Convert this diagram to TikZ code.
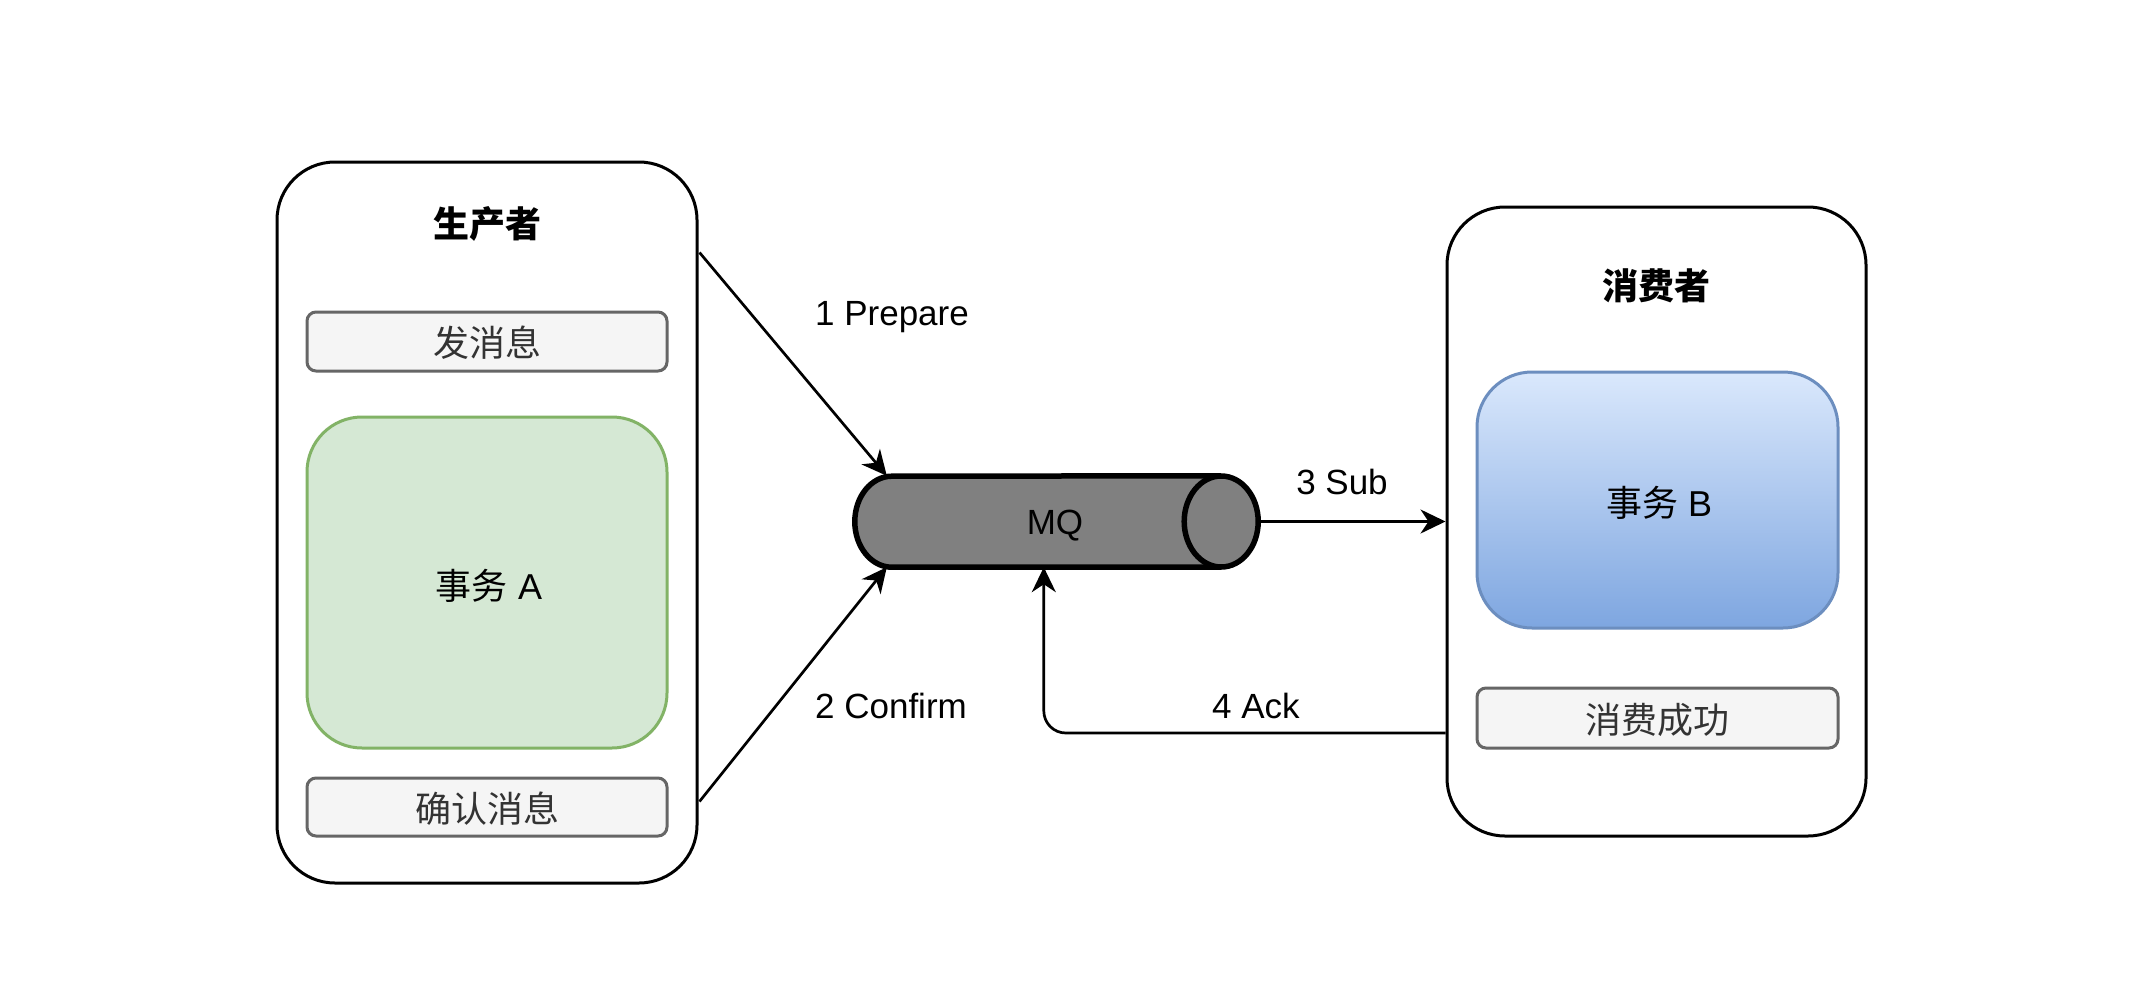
\documentclass[tikz,border=0pt]{standalone}
\usepackage{fontspec}
\setmainfont{Liberation Sans}
\newfontfamily\cjk{Noto Sans CJK SC}
\usetikzlibrary{arrows.meta,calc}
\definecolor{grnfill}{HTML}{D5E8D4}
\definecolor{grnline}{HTML}{82B366}
\definecolor{bluetop}{HTML}{DAE8FC}
\definecolor{bluebot}{HTML}{7EA6E0}
\definecolor{blueline}{HTML}{6C8EBF}
\definecolor{grayfill}{HTML}{F5F5F5}
\definecolor{grayline}{HTML}{666666}
\definecolor{graytext}{HTML}{333333}
\definecolor{mqfill}{HTML}{808080}
\tikzset{
  txt/.style={font=\fontsize{35pt}{42pt}\selectfont, inner sep=0pt},
  container/.style={draw=black, line width=3pt, fill=white, rounded corners=58pt, inner sep=0pt},
  graybox/.style={draw=grayline, line width=3pt, fill=grayfill, rounded corners=9pt, inner sep=0pt, text=graytext, font=\fontsize{36pt}{42pt}\selectfont\cjk, text depth=0pt},
  tx/.style={line width=3pt, rounded corners=55pt, inner sep=0pt, font=\fontsize{36pt}{42pt}\selectfont},
  conn/.style={draw=black, line width=2.7pt, -{Stealth[length=25pt,width=24pt,inset=8pt]}},
}
\begin{document}
\begin{tikzpicture}[x=1pt,y=-1pt]
\path[use as bounding box, fill=white] (0,0) rectangle (2139,1001);

% containers
\node[container, minimum width=420pt, minimum height=721pt] (prod) at (487,522.5) {};
\node[container, minimum width=419pt, minimum height=629pt] (cons) at (1656.5,521.5) {};

\node[txt, font=\fontsize{36pt}{42pt}\selectfont\cjk\bfseries] (prodtitle) at (487,224) {生产者};
\node[txt, font=\fontsize{36pt}{42pt}\selectfont\cjk\bfseries] (constitle) at (1656,286) {消费者};

% producer inner boxes
\node[graybox, minimum width=360pt, minimum height=59pt] (send) at (487,341.5) {发消息};
\node[tx, draw=grnline, fill=grnfill, minimum width=360pt, minimum height=331pt] (txA) at (487,582.5) {};
\node[txt, font=\fontsize{36pt}{42pt}\selectfont] (txAlabel) at (489,586) {{\cjk 事务} A};
\node[graybox, minimum width=360pt, minimum height=58pt] (confirm) at (487,807) {确认消息};

% consumer inner boxes
\node[tx, draw=blueline, top color=bluetop, bottom color=bluebot, minimum width=361pt, minimum height=256pt] (txB) at (1657.5,500) {};
\node[txt, font=\fontsize{36pt}{42pt}\selectfont] (txBlabel) at (1659,503) {{\cjk 事务} B};
\node[graybox, minimum width=361pt, minimum height=60pt] (ok) at (1657.5,718) {消费成功};

% MQ cylinder
\node[inner sep=0pt, minimum width=403pt, minimum height=91pt] (mqbox) at (1056.5,521.5) {};
\fill[mqfill] ($(mqbox.north west)+(37,0)$) arc[start angle=90, end angle=270, x radius=37pt, y radius=45.5pt]
  -- ($(mqbox.south east)+(-37,0)$) arc[start angle=-90, end angle=90, x radius=37pt, y radius=45.5pt] -- cycle;
\draw[line width=5.5pt, line join=round] ($(mqbox.south east)+(-37,0)$) -- ($(mqbox.south west)+(37,0)$)
  arc[start angle=270, end angle=90, x radius=37pt, y radius=45.5pt]
  -- ($(mqbox.north east)+(-37,0)$);
\draw[line width=5.5pt, fill=mqfill] ($(mqbox.east)+(-37,0)$) ellipse[x radius=37pt, y radius=45.5pt];
\node[txt] (mqlabel) at (1055,526) {MQ};

% connectors
\coordinate (p1) at ($(prod.north east)+(1,92)$);
\coordinate (p2) at ($(prod.north east)+(1,641)$);
\coordinate (mqin1) at ($(mqbox.north west)+(32,0)$);
\coordinate (mqin2) at ($(mqbox.south west)+(32,0)$);
\coordinate (ackstart) at ($(cons.west)+(0,211.5)$);
\coordinate (mqack) at ($(mqbox.south west)+(189,0)$);

\draw[conn] (p1) -- (mqin1);
\draw[conn] (p2) -- (mqin2);
\draw[conn] (mqbox.east) -- (cons.west);
\draw[conn, rounded corners=22pt] (ackstart) -| (mqack);

% labels
\node[txt] (l1) at (892,317) {1 Prepare};
\node[txt] (l2) at (891,706) {2 Confirm};
\node[txt] (l3) at (1342,482) {3 Sub};
\node[txt] (l4) at (1256,706) {4 Ack};
\end{tikzpicture}
\end{document}
